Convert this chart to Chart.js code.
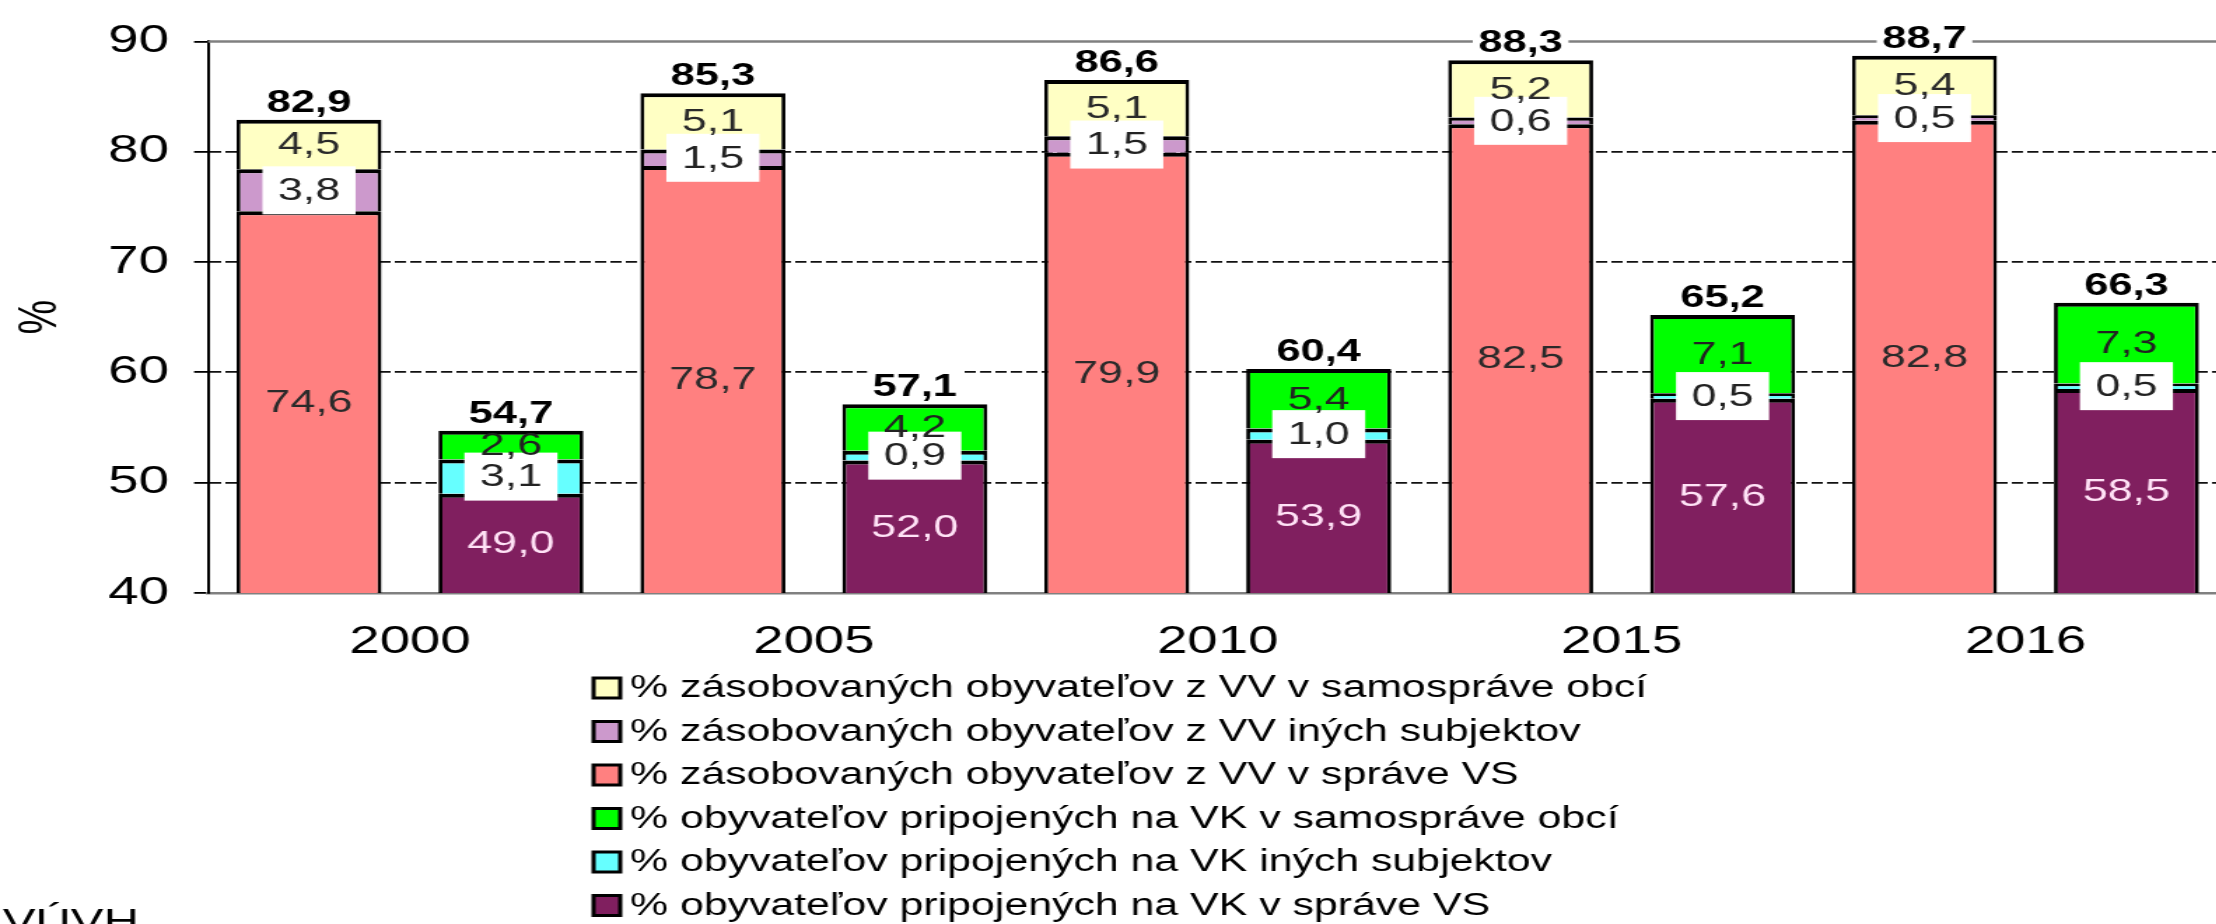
<!DOCTYPE html>
<html>
<head>
<meta charset="utf-8">
<script src="https://cdn.jsdelivr.net/npm/chart.js@4.4.1/dist/chart.umd.min.js"></script>
<style>
  html, body { margin: 0; padding: 0; background: #fff; overflow: hidden; }
  #wrap { width: 2216px; height: 924px; overflow: hidden; position: relative; }
  #chart { position: absolute; left: 0; top: 0; transform: scaleX(1.4); transform-origin: 0 0; }
</style>
</head>
<body>
<div id="wrap"><canvas id="chart" width="1600" height="924"></canvas></div>
<script>
const years = ['2000', '2005', '2010', '2015', '2016'];

// zasobovanie z verejnych vodovodov (VV)
const vvSpravaVS = [74.6, 78.7, 79.9, 82.5, 82.8];
const vvIne = [3.8, 1.5, 1.5, 0.6, 0.5];
const vvObce = [4.5, 5.1, 5.1, 5.2, 5.4];
const vvSpolu = [82.9, 85.3, 86.6, 88.3, 88.7];

// pripojenie na verejne kanalizacie (VK)
const vkSpravaVS = [49.0, 52.0, 53.9, 57.6, 58.5];
const vkIne = [3.1, 0.9, 1.0, 0.5, 0.5];
const vkObce = [2.6, 4.2, 5.4, 7.1, 7.3];
const vkSpolu = [54.7, 57.1, 60.4, 65.2, 66.3];

const yTicks = [40, 50, 60, 70, 80, 90];

const FONT = '"Liberation Sans", Arial, sans-serif';
const fmt = v => v.toFixed(1).replace('.', ',');

function bar(label, data, color, stack, textColor, boxed, totals) {
  return {
    label, data, stack, totals, textColor, boxed,
    backgroundColor: color,
    borderColor: '#000',
    borderWidth: { top: 4, bottom: 0, left: 2.8, right: 2.8 },
    borderSkipped: false,
    barPercentage: 0.718,
    categoryPercentage: 1.0
  };
}

const datasets = [
  bar('% zásobovaných obyvateľov z VV v správe VS', vvSpravaVS, '#FF8080', 'VV', '#2a2a2a', false),
  bar('% zásobovaných obyvateľov z VV iných subjektov', vvIne, '#CC99CC', 'VV', '#222', true),
  bar('% zásobovaných obyvateľov z VV v samospráve obcí', vvObce, '#FFFFC4', 'VV', '#2a2a2a', false, vvSpolu),
  bar('% obyvateľov pripojených na VK v správe VS', vkSpravaVS, '#801F5F', 'VK', '#FFE2F6', false),
  bar('% obyvateľov pripojených na VK iných subjektov', vkIne, '#66FFFF', 'VK', '#222', true),
  bar('% obyvateľov pripojených na VK v samospráve obcí', vkObce, '#00FF00', 'VK', '#222', false, vkSpolu)
];
const legendOrder = [2, 1, 0, 5, 4, 3];

const framePlugin = {
  id: 'frame',
  beforeDatasetsDraw(chart) {
    const { ctx, chartArea } = chart;
    ctx.save();
    ctx.strokeStyle = '#808080';
    ctx.lineWidth = 2.5;
    ctx.beginPath();
    ctx.moveTo(chartArea.left, chartArea.top);
    ctx.lineTo(chartArea.right, chartArea.top);
    ctx.stroke();
    ctx.restore();
  }
};

const labelPlugin = {
  id: 'barLabels',
  afterDatasetsDraw(chart) {
    const { ctx, chartArea } = chart;
    ctx.save();
    ctx.textAlign = 'center';
    ctx.textBaseline = 'middle';
    chart.data.datasets.forEach((ds, i) => {
      const meta = chart.getDatasetMeta(i);
      meta.data.forEach((el, j) => {
        const top = Math.max(el.y, chartArea.top);
        const bottom = Math.min(el.base, chartArea.bottom);
        const y = (top + bottom) / 2;
        const text = fmt(ds.data[j]);
        ctx.font = '32px ' + FONT;
        if (ds.boxed) {
          const w = ctx.measureText(text).width + 22;
          ctx.fillStyle = '#fff';
          ctx.fillRect(el.x - w / 2, y - 24, w, 48);
        }
        ctx.fillStyle = ds.textColor;
        ctx.fillText(text, el.x, y + 1);
        if (ds.totals) {
          const t = fmt(ds.totals[j]);
          ctx.font = 'bold 31px ' + FONT;
          const tw = ctx.measureText(t).width + 8;
          ctx.fillStyle = '#fff';
          ctx.fillRect(el.x - tw / 2, el.y - 35, tw, 30);
          ctx.fillStyle = '#000';
          ctx.textBaseline = 'alphabetic';
          ctx.fillText(t, el.x, el.y - 8);
          ctx.textBaseline = 'middle';
        }
      });
    });
    ctx.restore();
  }
};

const legendPlugin = {
  id: 'legendBlock',
  afterDraw(chart) {
    const ctx = chart.ctx;
    ctx.save();
    ctx.font = '30.6px ' + FONT;
    ctx.textBaseline = 'middle';
    ctx.textAlign = 'left';
    legendOrder.forEach((di, k) => {
      const ds = chart.data.datasets[di];
      const y = 688 + k * 43.5;
      ctx.fillStyle = ds.backgroundColor;
      ctx.fillRect(424, y - 10, 19, 20);
      ctx.lineWidth = 3;
      ctx.strokeStyle = '#000';
      ctx.strokeRect(424, y - 10, 19, 20);
      ctx.fillStyle = '#000';
      ctx.fillText(ds.label, 450, y + 1);
    });
    ctx.font = '35px ' + FONT;
    ctx.textBaseline = 'alphabetic';
    ctx.fillText('VÚVH', 2, 933);
    ctx.restore();
  }
};

new Chart(document.getElementById('chart'), {
  type: 'bar',
  data: { labels: years, datasets: datasets },
  options: {
    responsive: false,
    animation: false,
    devicePixelRatio: 1,
    layout: { padding: { top: 31, right: 9, bottom: 0, left: 0 } },
    plugins: { legend: { display: false }, tooltip: { enabled: false } },
    scales: {
      x: {
        stacked: true,
        grid: { display: false, drawTicks: false },
        border: { display: true, color: '#808080', width: 2.5 },
        ticks: { color: '#000', font: { family: FONT, size: 39 }, padding: 26 },
        afterFit(s) { s.height = 331; }
      },
      y: {
        stacked: true,
        min: 40,
        max: 90,
        afterBuildTicks(s) { s.ticks = yTicks.map(v => ({ value: v })); },
        grid: {
          color: c => (c.tick && (c.tick.value === 90 || c.tick.value === 40)) ? 'rgba(0,0,0,0)' : '#111',
          lineWidth: 1.8,
          tickLength: 10,
          tickColor: '#000',
          tickWidth: 1.8
        },
        border: { display: true, color: '#000', width: 2, dash: [8, 3] },
        ticks: { color: '#000', font: { family: FONT, size: 39 }, padding: 18 },
        title: { display: true, text: '%', color: '#000', font: { family: FONT, size: 39 }, padding: { top: 6, bottom: 0 } },
        afterFit(s) { s.width = 148.6; }
      }
    }
  },
  plugins: [framePlugin, labelPlugin, legendPlugin]
});
</script>
</body>
</html>
